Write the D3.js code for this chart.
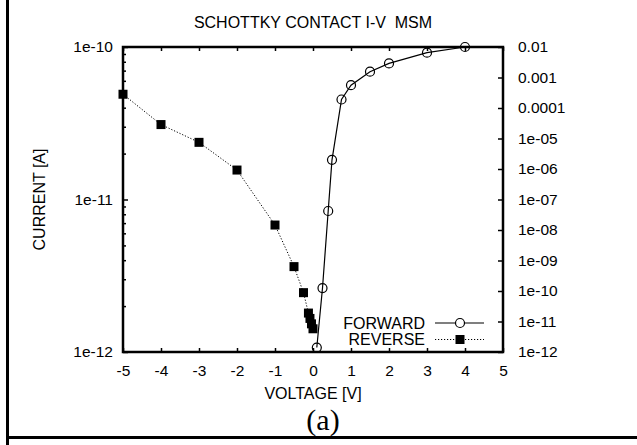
<!DOCTYPE html>
<html>
<head>
<meta charset="utf-8">
<script src="https://cdn.jsdelivr.net/npm/d3@7"></script>
<style>
  html, body { margin: 0; padding: 0; background: #fff; }
  svg { display: block; }
  text { font-family: "Liberation Sans", Arial, Helvetica, sans-serif; fill: #000; }
</style>
</head>
<body>
<svg id="chart" width="637" height="445"></svg>
<script>
// ---- Data ----
const forwardV = [0.1, 0.25, 0.4, 0.5, 0.75, 1, 1.5, 2, 3, 4];
const forwardI = [1.4e-12, 1.25e-10, 4.2e-8, 2.0e-6, 1.9e-4, 5.6e-4, 1.55e-3, 2.9e-3, 6.5e-3, 1.0e-2];
const reverseV = [-5, -4, -3, -2, -1, -0.5, -0.25, -0.12, -0.08, -0.04, 0];
const reverseI = [4.9e-11, 3.1e-11, 2.37e-11, 1.56e-11, 6.8e-12, 3.63e-12, 2.45e-12, 1.8e-12, 1.66e-12, 1.53e-12, 1.42e-12];
const xTicks = [-5, -4, -3, -2, -1, 0, 1, 2, 3, 4, 5];
const xTickLabels = ["-5", "-4", "-3", "-2", "-1", "0", "1", "2", "3", "4", "5"];
const leftTicks = [1e-12, 1e-11, 1e-10];
const leftTickLabels = ["1e-12", "1e-11", "1e-10"];
const rightTicks = [1e-12, 1e-11, 1e-10, 1e-9, 1e-8, 1e-7, 1e-6, 1e-5, 1e-4, 1e-3, 1e-2];
const rightTickLabels = ["1e-12", "1e-11", "1e-10", "1e-09", "1e-08", "1e-07", "1e-06", "1e-05", "0.0001", "0.001", "0.01"];
const seriesNames = ["FORWARD", "REVERSE"];
const titleText = "SCHOTTKY CONTACT I-V\u00a0\u00a0MSM";
const xLabel = "VOLTAGE [V]";
const yLabel = "CURRENT [A]";
const caption = "(a)";

// ---- Layout ----
const L = 123, R = 503, T = 47, B = 352;
const svg = d3.select("#chart");

const x = d3.scaleLinear().domain([-5, 5]).range([L, R]);
const yL = d3.scaleLog().domain([1e-12, 1e-10]).range([B, T]);
const yR = d3.scaleLog().domain([1e-12, 1e-2]).range([B, T]);

// outer table borders
svg.append("line").attr("x1", 7.5).attr("x2", 7.5).attr("y1", 0).attr("y2", 445)
  .attr("stroke", "#000").attr("stroke-width", 3);
svg.append("line").attr("x1", 6).attr("x2", 637).attr("y1", 437.5).attr("y2", 437.5)
  .attr("stroke", "#000").attr("stroke-width", 3);

const tickFont = 15.5;
const labelFont = 16;

// bottom axis
const gx = svg.append("g").attr("transform", `translate(0,${B})`)
  .call(d3.axisBottom(x).tickValues(xTicks).tickSize(-4).tickPadding(12.5)
    .tickFormat((d, i) => xTickLabels[i]));
// top axis (ticks only)
const gxt = svg.append("g").attr("transform", `translate(0,${T})`)
  .call(d3.axisTop(x).tickValues(xTicks).tickSize(-4).tickFormat(""));
// left axis major
const gl = svg.append("g").attr("transform", `translate(${L},0)`)
  .call(d3.axisLeft(yL).tickValues(leftTicks).tickSize(-5).tickPadding(10)
    .tickFormat((d, i) => leftTickLabels[i]));
// left axis minor
const minor = [];
[1e-12, 1e-11].forEach(dec => { for (let m = 2; m <= 9; m++) minor.push(dec * m); });
const glm = svg.append("g").attr("transform", `translate(${L},0)`)
  .call(d3.axisLeft(yL).tickValues(minor).tickSize(-3).tickFormat(""));
// right axis
const gr = svg.append("g").attr("transform", `translate(${R},0)`)
  .call(d3.axisRight(yR).tickValues(rightTicks).tickSize(-5).tickPadding(15)
    .tickFormat((d, i) => rightTickLabels[i]));

[gx, gxt, gl, glm, gr].forEach(g => {
  g.select(".domain").remove();
  g.selectAll(".tick line").attr("stroke", "#000").attr("stroke-width", 1.5);
  g.selectAll("text").attr("font-size", tickFont).attr("font-family", "Liberation Sans, Arial, sans-serif").attr("fill", "#000");
});

// plot frame
svg.append("rect").attr("x", L).attr("y", T).attr("width", R - L).attr("height", B - T)
  .attr("fill", "none").attr("stroke", "#000").attr("stroke-width", 2.5);

// reverse series (left axis)
const revData = reverseV.map((v, i) => ({ v, I: reverseI[i] }));
svg.append("path").datum(revData)
  .attr("d", d3.line().x(d => x(d.v)).y(d => yL(d.I)))
  .attr("fill", "none").attr("stroke", "#000").attr("stroke-width", 1).attr("stroke-dasharray", "1.2,1.8");
const sq = 9;
svg.append("g").selectAll("rect").data(revData).join("rect")
  .attr("x", d => x(d.v) - sq / 2).attr("y", d => yL(d.I) - sq / 2)
  .attr("width", sq).attr("height", sq).attr("fill", "#000");

// forward series (right axis)
const fwdData = forwardV.map((v, i) => ({ v, I: forwardI[i] }));
svg.append("path").datum(fwdData)
  .attr("d", d3.line().x(d => x(d.v)).y(d => yR(d.I)))
  .attr("fill", "none").attr("stroke", "#000").attr("stroke-width", 1.2);
svg.append("g").selectAll("circle").data(fwdData).join("circle")
  .attr("cx", d => x(d.v)).attr("cy", d => yR(d.I)).attr("r", 4.5)
  .attr("fill", "none").attr("stroke", "#000").attr("stroke-width", 1.2);

// legend
const legY = [323, 339.5];
seriesNames.forEach((name, i) => {
  svg.append("text").attr("x", 425).attr("y", legY[i]).attr("dy", "0.35em")
    .attr("text-anchor", "end").attr("font-size", labelFont).text(name);
  const ln = svg.append("line").attr("x1", 435).attr("x2", 484).attr("y1", legY[i]).attr("y2", legY[i])
    .attr("stroke", "#000");
  if (i === 0) {
    ln.attr("stroke-width", 1.2);
    svg.append("circle").attr("cx", 460).attr("cy", legY[i]).attr("r", 4.5)
      .attr("fill", "#fff").attr("stroke", "#000").attr("stroke-width", 1.2);
  } else {
    ln.attr("stroke-width", 1).attr("stroke-dasharray", "1.2,1.8");
    svg.append("rect").attr("x", 460 - sq / 2).attr("y", legY[i] - sq / 2)
      .attr("width", sq).attr("height", sq).attr("fill", "#000");
  }
});

// title & labels
svg.append("text").attr("x", 313).attr("y", 27.5).attr("text-anchor", "middle")
  .attr("font-size", labelFont).text(titleText);
svg.append("text").attr("x", 313).attr("y", 399).attr("text-anchor", "middle")
  .attr("font-size", labelFont).text(xLabel);
svg.append("text").attr("transform", `translate(45,${(T + B) / 2}) rotate(-90)`)
  .attr("text-anchor", "middle").attr("font-size", labelFont).text(yLabel);
svg.append("text").attr("x", 323).attr("y", 430).attr("text-anchor", "middle")
  .attr("font-size", 30).style("font-family", "'Liberation Serif', 'Times New Roman', serif").text(caption);
</script>
</body>
</html>
